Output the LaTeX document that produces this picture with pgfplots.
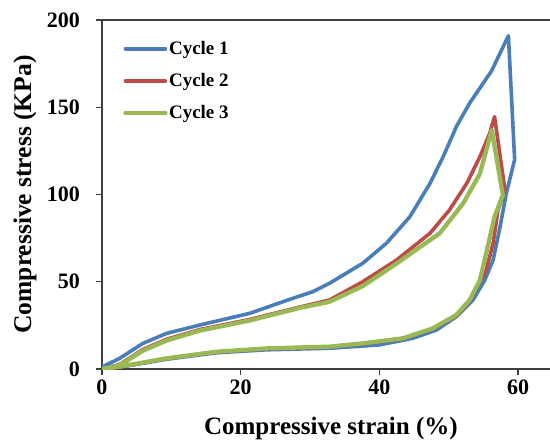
\documentclass[border=0pt]{standalone}
\usepackage{fontspec}
\setmainfont{Liberation Serif}
\usepackage{pgfplots}
\pgfplotsset{compat=1.18}
\definecolor{cyc1}{HTML}{4A7EBB}
\definecolor{cyc2}{HTML}{BE4B48}
\definecolor{cyc3}{HTML}{98B954}
\definecolor{axgray}{HTML}{404040}

\begin{document}
\begin{tikzpicture}
\begin{axis}[
  name=ax,
  scale only axis,
  width=448pt, height=349pt,
  xmin=0, xmax=64.6, ymin=0, ymax=200,
  xtick={0,20,40,60}, ytick={0,50,100,150,200},
  axis x line*=bottom, axis y line*=left,
  tick align=outside, major tick length=6pt,
  axis line style={line width=1.3pt, draw=axgray},
  every tick/.style={line width=1.3pt, draw=axgray},
  /pgf/number format/assume math mode=true,
  ticklabel style={font=\fontsize{22}{26}\selectfont\bfseries},
  yticklabel style={xshift=-12.5pt},
  xticklabel style={yshift=-1.5pt},
  xlabel={Compressive strain (\%)},
  ylabel={Compressive stress (KPa)},
  every axis x label/.style={at={(axis description cs:0.511,-0.189)}, anchor=base,
    font=\fontsize{25}{28}\selectfont\bfseries},
  every axis y label/.style={at={(axis description cs:-0.172,0.5)}, anchor=center,
    rotate=90, font=\fontsize{25.5}{28}\selectfont\bfseries},
  legend style={draw=none, fill=none, at={(0.047,0.945)}, anchor=north west,
    font=\fontsize{19}{22}\selectfont\bfseries, row sep=13.5pt,
    column sep=-0.5pt, inner sep=0pt},
  legend cell align=left,
  legend image code/.code={\draw[#1] (0pt,0pt) -- (40pt,0pt);},
  every axis plot/.append style={line join=round, line cap=round},
]
\addplot[cyc1, line width=3.6pt] coordinates {
  (0,1) (0.6,2.3) (2.5,6) (5.9,14.7) (9.3,20.4) (14.1,25.2) (21.3,31.9)
  (27.5,40.5) (30.4,44.3) (32.8,49.1) (37.6,60.6) (41,72) (44.4,87.3)
  (47.3,106.4) (49.2,121.7) (51.1,138.9) (53,152.3) (56.2,171) (58.6,191)
  (59.5,120) (58.3,100.7) (57.4,81.5) (56.4,62.5) (55.2,51) (53.5,39.5)
  (51.1,30) (48.2,22.3) (44.8,17.6) (40,13.8) (32.8,11.9) (23.7,11)
  (16.5,9.3) (9.3,5.6) (4,2) (2.5,1)
};
\addlegendentry{Cycle 1}
\addplot[cyc2, line width=3.6pt] coordinates {
  (0,0) (2.5,2.5) (5.9,11.2) (9.3,17) (14.1,22.6) (21.3,28.4) (28.5,35.5)
  (32.8,39.5) (37.6,50) (42.5,62.5) (47.3,77.8) (50.1,91.1) (52.6,106.4)
  (54.5,121.7) (55.9,135) (56.6,144.6) (58.1,102.6) (57.1,91) (56.4,72)
  (55.4,56.7) (54.5,50) (53,39) (51.1,30.5) (47.7,23) (43.4,17.4)
  (37.6,14.5) (32.8,12.6) (23.7,11.6) (16.5,9.7) (9.3,6) (2.5,1.2) (0,0)
};
\addlegendentry{Cycle 2}
\addplot[cyc3, line width=4.3pt] coordinates {
  (0,0) (2.5,2) (5.9,10.5) (9.3,16.3) (14.1,22) (21.3,27.8) (28.5,35)
  (32.8,38.5) (37.6,47.5) (42.5,60.5) (48.7,77.8) (52.1,95) (54.5,112)
  (56.2,137) (57.8,99.7) (56.6,87.3) (55.4,66.3) (54.5,51) (53,39.5)
  (51.1,31) (47.7,23.3) (43.4,17.6) (37.6,14.7) (32.8,12.8) (23.7,11.8)
  (16.5,9.9) (9.3,6.1) (2.5,1.3) (0,0)
};
\addlegendentry{Cycle 3}
\end{axis}
\draw[line width=1.3pt, axgray] (ax.north west) -- (ax.north east);
\pgfresetboundingbox
\path (ax.south west) ++(-102pt,-70pt) rectangle ([yshift=20pt]ax.north east);
\end{tikzpicture}
\end{document}
